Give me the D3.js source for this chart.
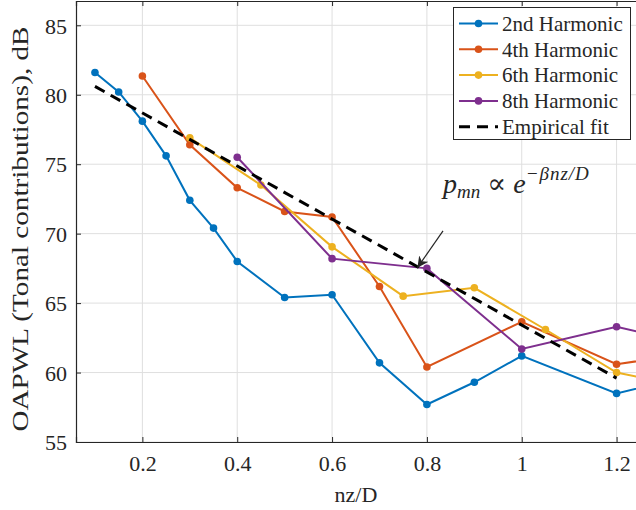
<!DOCTYPE html>
<html><head><meta charset="utf-8">
<script src="https://cdn.jsdelivr.net/npm/d3@7"></script>
<style>body{margin:0;background:#fff}svg{display:block}svg text{font-family:"Times New Roman","Liberation Serif","DejaVu Serif",serif !important;fill:#262626}</style>
</head><body><svg id="c" width="636" height="510"></svg>
<script>
const seriesNames = ["2nd Harmonic","4th Harmonic","6th Harmonic","8th Harmonic"];
const colors = ["#0072BD","#D95319","#EDB120","#7E2F8E"];
const x2 = [0.1,0.15,0.2,0.25,0.3,0.35,0.4,0.5,0.6,0.7,0.8,0.9,1.0,1.2,1.3];
const y2 = [81.6,80.2,78.1,75.6,72.4,70.4,68.0,65.4,65.6,60.7,57.7,59.3,61.2,58.5,59.3];
const x4 = [0.2,0.3,0.4,0.5,0.6,0.7,0.8,1.0,1.2,1.3];
const y4 = [81.35,76.4,73.3,71.6,71.2,66.2,60.4,63.65,60.6,61.1];
const x6 = [0.3,0.45,0.6,0.75,0.9,1.05,1.2,1.3];
const y6 = [76.9,73.5,69.05,65.5,66.1,63.1,60.0,59.3];
const x8 = [0.4,0.6,0.8,1.0,1.2,1.3];
const y8 = [75.5,68.2,67.5,61.7,63.3,62.5];
const fitX = [0.1,1.2];
const fitY = [80.6,59.6];
const xTicks = [0.2,0.4,0.6,0.8,1,1.2];
const yTicks = [55,60,65,70,75,80,85];
const xLabel = "nz/D";
const yLabel = "OAPWL (Tonal contributions), dB";

const svg = d3.select("#c");
const L = 76, T = 1, B = 442, R = 664;
const x = d3.scaleLinear().domain([0.06,1.3]).range([L,R]);
const y = d3.scaleLinear().domain([55,86.75]).range([B,T]);
const ink = "#262626";
const serif = "'Times New Roman','Liberation Serif','DejaVu Serif',serif";

// grid
svg.append("g").selectAll("line").data(xTicks).join("line")
  .attr("x1",d=>x(d)).attr("x2",d=>x(d)).attr("y1",T).attr("y2",B)
  .attr("stroke","#dfdfdf").attr("stroke-width",1);
svg.append("g").selectAll("line").data(yTicks).join("line")
  .attr("x1",L).attr("x2",R).attr("y1",d=>y(d)).attr("y2",d=>y(d))
  .attr("stroke","#dfdfdf").attr("stroke-width",1);

// axes
const xAx = svg.append("g").attr("transform",`translate(0,${B})`)
  .call(d3.axisBottom(x).tickValues(xTicks).tickFormat(d3.format("~g")).tickSize(-5).tickPadding(13));
const xTop = svg.append("g").attr("transform",`translate(0,${T})`)
  .call(d3.axisTop(x).tickValues(xTicks).tickFormat("").tickSize(-5));
const yAx = svg.append("g").attr("transform",`translate(${L},0)`)
  .call(d3.axisLeft(y).tickValues(yTicks).tickSize(-5).tickPadding(9));
[xAx,xTop,yAx].forEach(g=>{
  g.attr("font-family",serif).attr("font-size",22);
  g.select(".domain").attr("stroke",ink).attr("stroke-width",1.2);
  g.selectAll(".tick line").attr("stroke",ink);
  g.selectAll(".tick text").attr("font-size",22).attr("fill",ink);
});
yAx.selectAll(".tick text").attr("dy","0.35em");

// labels
svg.append("text").attr("x",356).attr("y",502).attr("text-anchor","middle").attr("font-size",22).text(xLabel);
svg.append("text").attr("transform","translate(28,229) rotate(-90)").attr("text-anchor","middle")
  .attr("font-size",23).attr("textLength",405).attr("lengthAdjust","spacingAndGlyphs").text(yLabel);

// series
svg.append("clipPath").attr("id","pc").append("rect").attr("x",L).attr("y",T).attr("width",R-L).attr("height",B-T);
const plot = svg.append("g").attr("clip-path","url(#pc)");
const line = d3.line().x(d=>x(d[0])).y(d=>y(d[1]));
const all = [[x2,y2],[x4,y4],[x6,y6],[x8,y8]];
all.forEach((s,i)=>{
  const pts = s[0].map((v,j)=>[v,s[1][j]]);
  plot.append("path").datum(pts).attr("d",line).attr("fill","none").attr("stroke",colors[i]).attr("stroke-width",2);
  plot.append("g").selectAll("circle").data(pts).join("circle")
    .attr("cx",d=>x(d[0])).attr("cy",d=>y(d[1])).attr("r",3.8).attr("fill",colors[i]);
});
const fitPts = fitX.map((v,j)=>[v,fitY[j]]);
plot.append("path").datum(fitPts).attr("d",line).attr("fill","none").attr("stroke","#000")
  .attr("stroke-width",3).attr("stroke-dasharray","11,7");

// annotation arrow
svg.append("defs").append("marker").attr("id","ah").attr("viewBox","0 0 10 10").attr("refX",10).attr("refY",5)
  .attr("markerWidth",11).attr("markerHeight",11).attr("markerUnits","userSpaceOnUse").attr("orient","auto")
  .append("path").attr("d","M0,0 L10,5 L0,10 L3,5 Z").attr("fill","#262626");
svg.append("line").attr("x1",x(0.834)).attr("y1",y(70.2)).attr("x2",x(0.78)).attr("y2",y(67.55))
  .attr("stroke","#262626").attr("stroke-width",1.2).attr("marker-end","url(#ah)");
const ann = svg.append("text").attr("x",x(0.834)).attr("y",y(72.95)).attr("font-size",28).attr("font-style","italic");
ann.append("tspan").text("p");
ann.append("tspan").attr("font-size",19).attr("dy",5).text("mn");
ann.append("tspan").attr("dy",-5).attr("font-style","normal").text(" ∝ ");
ann.append("tspan").text("e");
ann.append("tspan").attr("font-size",19).attr("dy",-13).attr("letter-spacing",1).text("−βnz/D");

// legend
const lg = svg.append("g");
lg.append("rect").attr("x",453.5).attr("y",7.5).attr("width",177).attr("height",132).attr("fill","#fff").attr("stroke",ink).attr("stroke-width",1);
const lgNames = seriesNames.concat(["Empirical fit"]);
lgNames.forEach((n,i)=>{
  const yy = 23.5 + i*25.8;
  if(i<4){
    lg.append("line").attr("x1",459).attr("x2",498).attr("y1",yy).attr("y2",yy).attr("stroke",colors[i]).attr("stroke-width",2);
    lg.append("circle").attr("cx",478.5).attr("cy",yy).attr("r",3.8).attr("fill",colors[i]);
  } else {
    lg.append("line").attr("x1",459).attr("x2",498).attr("y1",yy).attr("y2",yy).attr("stroke","#000").attr("stroke-width",3).attr("stroke-dasharray","11,7");
  }
  lg.append("text").attr("x",502).attr("y",yy).attr("dy","0.35em").attr("font-size",21).text(n);
});
</script></body></html>
